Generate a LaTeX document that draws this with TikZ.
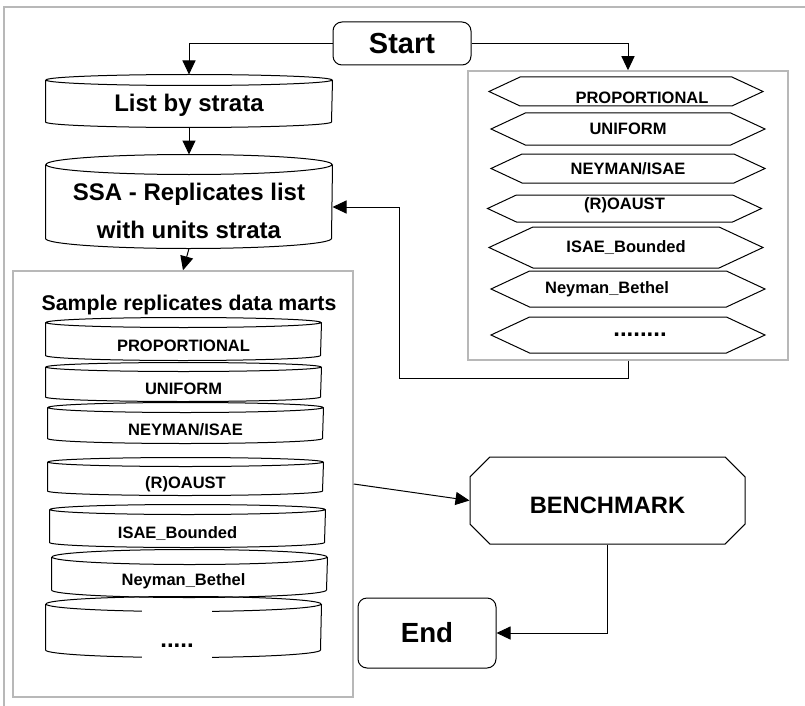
\documentclass[tikz,border=0pt]{standalone}
\usepackage{fontspec}
\setmainfont{Liberation Sans}
\usetikzlibrary{arrows.meta, shapes.symbols, shapes.misc, positioning}
\tikzset{
	flow/.style = {-{Triangle[length=14pt, width=13pt]}},
	term/.style = {rectangle, rounded corners=9pt, draw, font=\bfseries},
	store/.style = {rectangle, inner sep=0pt, font=\bfseries},
	mart/.style = {store, minimum width=275pt, text height=24pt, text depth=0pt, font=\bfseries\fontsize{16.5}{20}\selectfont},
	method/.style = {signal, signal to=west and east, signal pointer angle=50, draw, inner sep=1pt,
		minimum width=274pt, font=\bfseries\fontsize{16.5}{20}\selectfont},
	group/.style = {rectangle, draw=black!28, line width=1.5pt}
}
\begin{document}
\begin{tikzpicture}[x=1pt, y=-1pt, line width=1pt]
		\useasboundingbox (0,0) rectangle (805,706);
		\draw[black!28, line width=1.5pt] (4,706) |- (805,7);
		
		\node[term, minimum width=138pt, minimum height=43pt, font=\bfseries\fontsize{29}{34}\selectfont] (start) at (402,43.5) {Start};
		\node[store, minimum width=286pt, minimum height=52pt, text height=21pt, text depth=0pt,
			font=\bfseries\fontsize{24}{28}\selectfont] (list) at (189,101) {List by strata};
		\node[store, minimum width=286pt, minimum height=93pt, text height=20pt, text depth=22pt,
			font=\bfseries\fontsize{24}{38}\selectfont] (ssa) at (189,201.5)
			{\parbox[t]{270pt}{\centering SSA - Replicates list\\with units strata}};
		
		% sample replicates
		\node[group, minimum width=340pt, minimum height=426pt] (marts) at (183,484) {};
		\node[font=\bfseries\fontsize{21.3}{25}\selectfont] (title) at (189,305) {Sample replicates data marts};
		\node[mart, minimum height=42pt] (m1) at (183.5,339) {PROPORTIONAL};
		\node[mart, minimum height=38pt] (m2) at (183.5,382) {UNIFORM};
		\node[mart, minimum height=40pt] (m3) at (185.5,423) {NEYMAN/ISAE};
		\node[mart, minimum height=37pt] (m4) at (185.5,476.5) {(R)OAUST};
		\node[mart, minimum height=42pt] (m5) at (187.5,526) {ISAE\_Bounded\hspace*{20pt}};
		\node[mart, minimum height=47pt] (m6) at (189.5,573.5) {Neyman\_Bethel\hspace*{12pt}};
		\node[mart, minimum height=60pt] (m7) at (183.5,627) {};
		
		% cylinder outlines
		\foreach \c/\a/\r in {list/143/5.5, ssa/143/10, m1/137.5/5, m2/137.5/4.5, m3/137.5/5, m4/137.5/4.5,
			m5/137.5/5, m6/137.5/7.5, m7/137.5/7.5}
			\draw ([yshift=-\r pt]\c.north) ellipse [x radius=\a pt, y radius=\r pt]
				([yshift=-\r pt]\c.north west) -- ([yshift=\r pt]\c.south west)
				arc [start angle=180, end angle=360, x radius=\a pt, y radius=\r pt] -- ([yshift=-\r pt]\c.north east);
		\node[fill=white, minimum width=70pt, minimum height=50pt, text height=26pt, text depth=0pt,
			font=\bfseries\fontsize{24}{28}\selectfont] (m7dots) at (177,634) {.....};
		
		% allocation methods
		\node[group, minimum width=320pt, minimum height=289pt] (methods) at (628,215.5) {};
		\node[method, minimum height=29pt, text height=23pt, text depth=0pt] (a1) at (626,91.5) {\hspace*{32pt}PROPORTIONAL};
		\node[method, minimum height=32pt] (a2) at (628,129) {UNIFORM};
		\node[method, minimum height=29pt] (a3) at (628,168.5) {NEYMAN/ISAE};
		\node[method, minimum height=27pt, text height=12pt, text depth=11pt] (a4) at (624.5,208.5) {(R)OAUST};
		\node[method, minimum height=41pt] (a5) at (626,247.5) {ISAE\_Bounded};
		\node[method, minimum height=36pt] (a6) at (628,289) {Neyman\_Bethel\hspace*{42pt}};
		\node[method, minimum height=36pt, font=\bfseries\fontsize{24}{28}\selectfont] (a7) at (628,335) {\hspace*{24pt}........};
		
		\node[chamfered rectangle, chamfered rectangle xsep=25pt, draw, minimum width=275pt, minimum height=87pt,
			text height=26pt, text depth=0pt, font=\bfseries\fontsize{23.7}{28}\selectfont] (bench) at (607.5,500.5) {BENCHMARK};
		\node[term, minimum width=138pt, minimum height=70pt, font=\bfseries\fontsize{27.7}{32}\selectfont] (end) at (427,633) {End};
		
		\coordinate (turn) at (399,378);
		
		% flow
		\draw[flow] (start.west) -| (list.north);
		\draw[flow] (start.east) -| (methods.north);
		\draw[flow] (list.south) -- (ssa.north);
		\draw[flow] (ssa.south) -- (marts.north);
		\draw[flow] (methods.south) |- (turn) |- ([yshift=-5.5pt]ssa.east);
		\draw[flow] (marts.east) -- (bench.west);
		\draw[flow] (bench.south) |- (end.east);
\end{tikzpicture}
\end{document}
